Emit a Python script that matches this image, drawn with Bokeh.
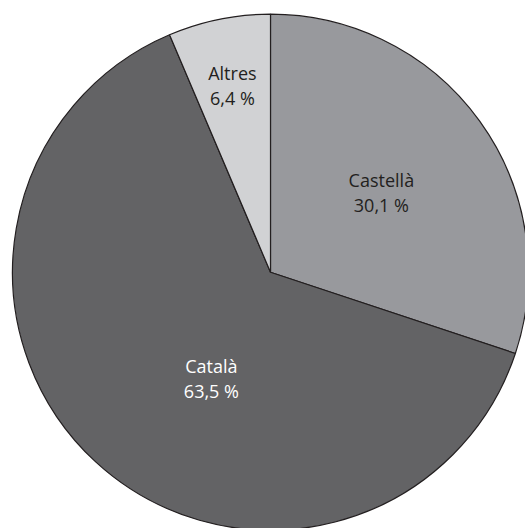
import math
from bokeh.plotting import figure
from bokeh.models import ColumnDataSource
from bokeh.core.properties import value
from bokeh.embed import file_html
from bokeh.resources import INLINE

# Data
categories = ["Castellà", "Català", "Altres"]
shares = [30.1, 63.5, 6.4]
value_labels = ["30,1 %", "63,5 %", "6,4 %"]

# Styles
colors = ["#98999d", "#636365", "#d1d2d4"]
text_colors = ["#231f20", "#ffffff", "#231f20"]
label_r_frac = [0.53, 0.47, 0.74]
label_angle_shift = [0.0, -13.5, 0.0]  # degrees, clockwise positive

R = 258.0
W, H = 525, 528
cx_px, cy_px = 270.0, 271.7

total = sum(shares)
starts, ends = [], []
cum = 0.0
for s in shares:
    a0 = 90.0 - cum / total * 360.0
    cum += s
    a1 = 90.0 - cum / total * 360.0
    starts.append(math.radians(a0))
    ends.append(math.radians(a1))

lx, ly = [], []
for i, s in enumerate(shares):
    mid = (starts[i] + ends[i]) / 2.0 - math.radians(label_angle_shift[i])
    r = label_r_frac[i] * R
    lx.append(r * math.cos(mid))
    ly.append(r * math.sin(mid))

src = ColumnDataSource(dict(
    x=[0.0] * len(shares), y=[0.0] * len(shares),
    start=starts, end=ends, color=colors,
    cat=categories, val=value_labels, tc=text_colors, lx=lx, ly=ly,
))

p = figure(width=W, height=H, output_backend="svg", toolbar_location=None,
           x_range=(-cx_px, W - cx_px), y_range=(-(H - cy_px), cy_px),
           min_border=0, match_aspect=False)
p.axis.visible = False
p.grid.visible = False
p.outline_line_color = None
p.background_fill_color = "white"
p.border_fill_color = "white"

p.wedge(x="x", y="y", radius=R, radius_units="data",
        start_angle="start", end_angle="end", direction="clock",
        fill_color="color", line_color="#231f20", line_width=1.2, source=src)

p.text(x="lx", y="ly", text="cat", text_color="tc", source=src,
       text_font=value("Open Sans"), text_font_size="18px",
       text_align="center", text_baseline="middle", y_offset=-12.5)
p.text(x="lx", y="ly", text="val", text_color="tc", source=src,
       text_font=value("Open Sans"), text_font_size="18px",
       text_align="center", text_baseline="middle", y_offset=12.5)

open("out.html", "w").write(file_html(p, INLINE))
